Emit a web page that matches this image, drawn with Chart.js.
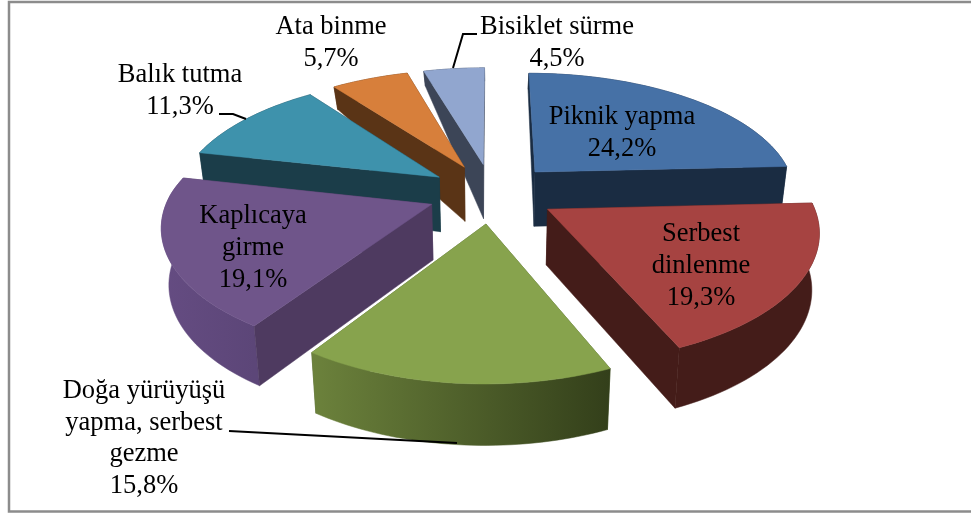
<!DOCTYPE html>
<html>
<head>
<meta charset="utf-8">
<script src="https://cdn.jsdelivr.net/npm/chart.js@4"></script>
<style>
  html, body { margin: 0; padding: 0; background: #fff; }
  canvas { display: block; }
</style>
</head>
<body>
<canvas id="myChart" width="971" height="516"></canvas>
<script>
// Data
const categories = ["Piknik yapma", "Serbest dinlenme", "Doğa yürüyüşü yapma, serbest gezme", "Kaplıcaya girme", "Balık tutma", "Ata binme", "Bisiklet sürme"];
const shares = [24.2, 19.3, 15.8, 19.1, 11.3, 5.7, 4.5];
const labelLines = [["Piknik yapma"], ["Serbest", "dinlenme"], ["Doğa yürüyüşü", "yapma, serbest", "gezme"], ["Kaplıcaya", "girme"], ["Balık tutma"], ["Ata binme"], ["Bisiklet sürme"]];

// Styles
const topColors = ["#4671a6", "#a64341", "#87a34d", "#6f558a", "#3e92ac", "#d77f3b", "#91a6cf"];
const cutColors = ["#1a2c42", "#441c19", "#4f6130", "#4e3a60", "#1b3d49", "#5a3416", "#3c4557"];
const rimLeft = ["#1a2c42", "#441c19", "#6c823c", "#654c82", "#1b3d49", "#5a3416", "#3c4557"];
const rimRight = ["#1a2c42", "#441c19", "#333f1a", "#5c4678", "#1b3d49", "#5a3416", "#3c4557"];
const explode = [24.5, 24.5, 24.5, 24.5, 24.5, 24.5, 24.5];
const labelSpots = [[622, 117.5], [701, 234.5], [144, 391], [253, 216.5], [180, 75.5], [331, 27.5], [557, 27.5]];
const leaders = [
  [[229, 431], [457, 443]],
  [[219, 114], [233, 114], [246, 119]],
  [[477, 34], [463, 34], [453, 68]],
];
const paintOrder = [6, 5, 4, 0, 3, 1, 2];

// Fake 3D view of the pie
const view = { cx: 492, cy: 193, a: 262, b: 122 };

function wallHeight(Y) {
  return Y <= 0.25 ? 54 - 5 * (Y - 0.25) : 54 - 41 * (Y - 0.25);
}

function project(X, Y, bottom) {
  // the picture's perspective is a bit weaker towards the front
  const sx = 1 / (1 + (Y < 0 ? 0.15 : 0.17) * Y);
  const sy = 1 / (1 + (Y < 0 ? 0.165 : 0.17) * Y);
  let x = view.cx + view.a * X * sx;
  let y = view.cy - view.b * Y * sy;
  if (bottom) {
    x = view.cx + (x - view.cx) * 0.977;
    y += wallHeight(Y);
  }
  return [x, y];
}

function fillPoly(ctx, pts, fill) {
  ctx.beginPath();
  pts.forEach((p, i) => (i ? ctx.lineTo(p[0], p[1]) : ctx.moveTo(p[0], p[1])));
  ctx.closePath();
  ctx.fillStyle = fill;
  ctx.fill();
  ctx.strokeStyle = fill;
  ctx.lineWidth = 0.5;
  ctx.stroke();
}

function drawSlice(ctx, arc, i) {
  const start = arc.startAngle + Math.PI / 2;
  const end = arc.endAngle + Math.PI / 2;
  const mid = (start + end) / 2;
  const e = arc.options.offset / 100;
  const ox = e * Math.sin(mid);
  const oy = e * Math.cos(mid);

  const rim = [];
  for (let n = 0; n <= 40; n++) {
    const t = start + ((end - start) * n) / 40;
    rim.push([ox + Math.sin(t), oy + Math.cos(t)]);
  }
  const topRim = rim.map((p) => project(p[0], p[1], false));
  const lowRim = rim.map((p) => project(p[0], p[1], true));
  const apexTop = project(ox, oy, false);
  const apexLow = project(ox, oy, true);

  const startCut = [apexTop, topRim[0], lowRim[0], apexLow];
  const endCut = [apexTop, topRim[40], lowRim[40], apexLow];
  const startFront = Math.cos(start - Math.PI / 2) < 0.01;
  const endFront = Math.cos(end + Math.PI / 2) < 0.01;

  if (!startFront) fillPoly(ctx, startCut, cutColors[i]);
  if (!endFront) fillPoly(ctx, endCut, cutColors[i]);

  const xs = topRim.map((p) => p[0]);
  const grad = ctx.createLinearGradient(Math.min(...xs), 0, Math.max(...xs), 0);
  grad.addColorStop(0, rimLeft[i]);
  grad.addColorStop(1, rimRight[i]);
  fillPoly(ctx, topRim.concat(lowRim.slice().reverse()), grad);

  if (startFront) fillPoly(ctx, startCut, cutColors[i]);
  if (endFront) fillPoly(ctx, endCut, cutColors[i]);

  fillPoly(ctx, [apexTop].concat(topRim), arc.options.backgroundColor);
}

const pie3d = {
  id: "pie3d",
  beforeDraw(chart) {
    const ctx = chart.ctx;
    ctx.save();
    ctx.strokeStyle = "#8c8c8c";
    ctx.lineWidth = 2.5;
    ctx.beginPath();
    ctx.moveTo(971, 2);
    ctx.lineTo(9, 2);
    ctx.lineTo(9, 511.5);
    ctx.lineTo(971, 511.5);
    ctx.stroke();
    ctx.restore();
  },
  // the flat arcs are replaced by the projected ones below
  beforeDatasetDraw() {
    return false;
  },
  afterDatasetsDraw(chart) {
    const ctx = chart.ctx;
    const arcs = chart.getDatasetMeta(0).data;
    ctx.save();
    paintOrder.forEach((i) => drawSlice(ctx, arcs[i], i));

    ctx.strokeStyle = "#000";
    ctx.lineWidth = 2;
    leaders.forEach((line) => {
      ctx.beginPath();
      line.forEach((p, n) => (n ? ctx.lineTo(p[0], p[1]) : ctx.moveTo(p[0], p[1])));
      ctx.stroke();
    });

    ctx.fillStyle = "#000";
    ctx.font = "26.5px 'Liberation Serif'";
    ctx.textAlign = "center";
    ctx.textBaseline = "middle";
    categories.forEach((name, i) => {
      const lines = labelLines[i].concat(shares[i].toFixed(1).replace(".", ",") + "%");
      lines.forEach((text, n) => {
        ctx.fillText(text, labelSpots[i][0], labelSpots[i][1] + n * 31.6);
      });
    });
    ctx.restore();
  },
};

new Chart(document.getElementById("myChart").getContext("2d"), {
  type: "pie",
  data: {
    labels: categories,
    datasets: [
      {
        data: shares,
        backgroundColor: topColors,
        borderWidth: 0,
        offset: explode,
      },
    ],
  },
  options: {
    responsive: false,
    animation: false,
    rotation: 0,
    plugins: {
      legend: { display: false },
      tooltip: { enabled: false },
    },
  },
  plugins: [pie3d],
});
</script>
</body>
</html>
